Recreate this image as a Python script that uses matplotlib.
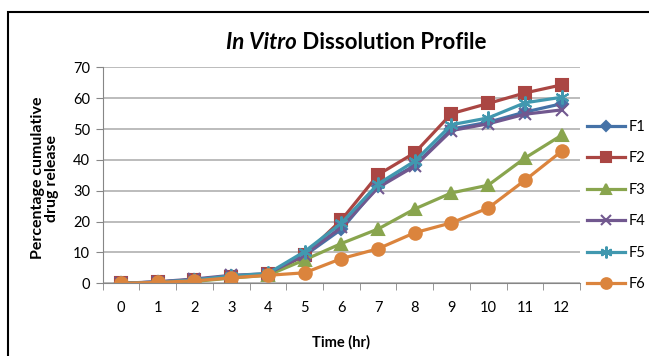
"""
Recreate the "In Vitro Dissolution Profile" line chart.
"""

import matplotlib
matplotlib.use("Agg")
import matplotlib.pyplot as plt
from matplotlib.patches import Rectangle

plt.rcParams["font.family"] = ["Lato", "DejaVu Sans"]

hours = [0, 1, 2, 3, 4, 5, 6, 7, 8, 9, 10, 11, 12]
f1 = [0, 0.4, 1.2, 2.3, 2.9, 9.0, 17.5, 31.5, 38.2, 50.0, 52.2, 55.5, 58.2]
f2 = [0, 0.4, 1.0, 2.2, 2.9, 9.2, 20.5, 35.2, 42.3, 55.0, 58.3, 61.7, 64.3]
f3 = [0, 0.3, 0.6, 1.7, 2.6, 7.6, 12.9, 17.6, 24.1, 29.3, 31.8, 40.6, 48.0]
f4 = [0, 0.5, 1.4, 2.6, 3.1, 9.3, 18.2, 31.0, 38.0, 49.5, 51.7, 54.8, 56.2]
f5 = [0, 0.4, 1.1, 2.4, 3.2, 10.3, 19.5, 32.2, 39.6, 51.4, 53.6, 58.5, 60.3]
f6 = [0, 0.3, 0.8, 1.8, 2.6, 3.4, 8.0, 11.2, 16.4, 19.6, 24.4, 33.4, 42.8]

series = [
    ("F1", f1, "#4572A7", "D", 6),
    ("F2", f2, "#AA4643", "s", 8),
    ("F3", f3, "#89A54E", "^", 9),
    ("F4", f4, "#71588F", "x", 8),
    ("F5", f5, "#4198AF", (6, 2, 0), 10),
    ("F6", f6, "#DB843D", "o", 9),
]

fig = plt.figure(figsize=(6.49, 3.56), dpi=100)
ax = fig.add_axes([0.1582, 0.2042, 0.7355, 0.6067])

for name, values, color, marker, size in series:
    ax.plot(hours, values, color=color, lw=2.3, marker=marker,
            markersize=size, markeredgecolor=color, markeredgewidth=1.5,
            label=name)

ax.set_xlim(-0.5, 12.5)
ax.set_ylim(0, 70)
ax.set_xticks(hours)
ax.set_xticklabels([str(h) for h in hours])
ax.set_xticks([h - 0.5 for h in hours] + [12.5], minor=True)
ax.tick_params(axis="x", which="major", length=0, pad=13, labelsize=10.5)
ax.tick_params(axis="x", which="minor", length=5, color="#868686")
ax.set_yticks(range(0, 80, 10))
ax.tick_params(axis="y", length=5, color="#868686", labelsize=10.5, pad=4)
ax.yaxis.grid(True, color="#b0b0b0", lw=1.2)
ax.set_axisbelow(True)
for side in ("top", "right"):
    ax.spines[side].set_visible(False)
for side in ("left", "bottom"):
    ax.spines[side].set_color("#868686")

ax.set_xlabel("Time (hr)", fontsize=10.5, fontweight="bold", labelpad=14)
fig.text(0.07, 0.50, "Percentage cumulative\ndrug release", rotation=90,
         ha="center", va="center", fontsize=11.5, fontweight="bold",
         linespacing=1.0)

# title with italic "In Vitro" part
renderer = fig.canvas.get_renderer()
t1 = fig.text(0, 0.88, "In Vitro", fontsize=16, fontweight="bold",
              style="italic", va="center")
t2 = fig.text(0, 0.88, " Dissolution Profile", fontsize=16,
              fontweight="bold", va="center")
w1 = t1.get_window_extent(renderer).width
w2 = t2.get_window_extent(renderer).width
x0 = 356 - (w1 + w2) / 2
t1.set_x(x0 / 649)
t2.set_x((x0 + w1) / 649)

fig.legend(loc="upper left", bbox_to_anchor=(0.895, 0.68), frameon=False,
           fontsize=10.5, handlelength=2.6, labelspacing=1.2,
           handletextpad=0.3, borderaxespad=0, markerscale=0.85)

fig.patches.append(Rectangle((8 / 649, -0.2), 1.2, 1.2 - 12 / 356,
                             transform=fig.transFigure, fill=False,
                             lw=1.5, edgecolor="black"))

fig.savefig("out.png", dpi=100)
